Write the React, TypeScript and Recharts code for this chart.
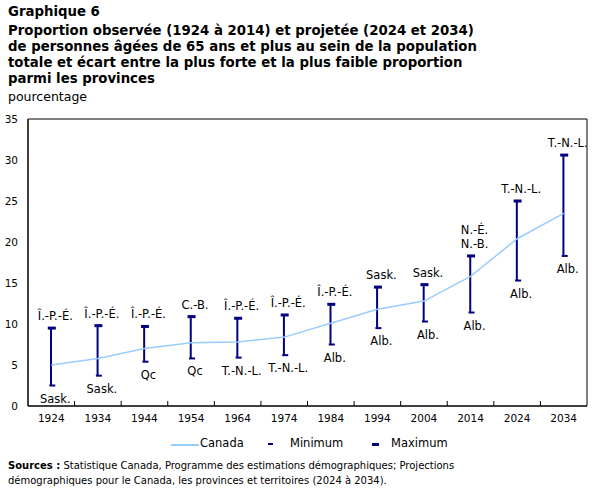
import {
  ComposedChart,
  Bar,
  Line,
  XAxis,
  YAxis,
  Legend,
  ReferenceArea,
} from "recharts";

const years = ["1924", "1934", "1944", "1954", "1964", "1974", "1984", "1994", "2004", "2014", "2024", "2034"];
const canada = [5.0, 5.8, 7.0, 7.7, 7.8, 8.4, 10.1, 11.8, 12.8, 15.8, 20.4, 23.5];
const maxValues = [9.5, 9.8, 9.7, 10.9, 10.7, 11.1, 12.4, 14.5, 14.8, 18.3, 25.0, 30.6];
const minValues = [2.5, 3.7, 5.4, 5.8, 5.9, 6.2, 7.5, 9.5, 10.3, 11.4, 15.3, 18.3];
const maxLabels = ["Î.-P.-É.", "Î.-P.-É.", "Î.-P.-É.", "C.-B.", "Î.-P.-É.", "Î.-P.-É.", "Î.-P.-É.", "Sask.", "Sask.", "N.-É.\nN.-B.", "T.-N.-L.", "T.-N.-L."];
const minLabels = ["Sask.", "Sask.", "Qc", "Qc", "T.-N.-L.", "T.-N.-L.", "Alb.", "Alb.", "Alb.", "Alb.", "Alb.", "Alb."];
const yTicks = [0, 5, 10, 15, 20, 25, 30, 35];

const data = years.map((year, i) => ({
  year,
  canada: canada[i],
  max: maxValues[i],
  min: minValues[i],
  range: [minValues[i], maxValues[i]],
  maxLabel: maxLabels[i],
  minLabel: minLabels[i],
}));

const FONT = "'DejaVu Sans', Verdana, sans-serif";
const NAVY = "#000080";
const SKY = "#99ccff";

const W = 606;
const H = 494;
const margin = { top: 119, right: 19, bottom: 50, left: 4 };
const Y_AXIS_W = 24;
const band = (W - margin.left - margin.right - Y_AXIS_W) / years.length;

// vertical segment between min and max
const Whisker = (props: any) => {
  const { x, y, width, height } = props;
  const cx = x + width / 2;
  const top = Math.min(y, y + height);
  const bottom = Math.max(y, y + height);
  return <line x1={cx} x2={cx} y1={top} y2={bottom} stroke={NAVY} strokeWidth={2} />;
};

const MaxCap = (props: any) => {
  const { cx, cy, index, payload } = props;
  const lines = String(payload.maxLabel).split("\n");
  return (
    <g key={`max-${index}`}>
      <rect x={cx - 3.5} y={cy - 1.5} width={8} height={3} fill={NAVY} />
      {lines.map((t, k) => (
        <text
          key={k}
          x={cx + 4}
          y={cy - 8 - (lines.length - 1 - k) * 14}
          textAnchor="middle"
          fontSize={11.5}
          fontFamily={FONT}
          fill="#000"
        >
          {t}
        </text>
      ))}
    </g>
  );
};

const MinCap = (props: any) => {
  const { cx, cy, index, payload } = props;
  return (
    <g key={`min-${index}`}>
      <rect x={cx - 2} y={cy - 1} width={6} height={2} fill={NAVY} />
      <text
        x={cx + 4}
        y={cy + 17}
        textAnchor="middle"
        fontSize={11.5}
        fontFamily={FONT}
        fill="#000"
      >
        {payload.minLabel}
      </text>
    </g>
  );
};

// year label plus a small inward tick on the boundary to the right
const YearTick = (props: any) => {
  const { x, y, payload, index } = props;
  const axisY = y - 9;
  return (
    <g>
      {index < years.length - 1 && (
        <line x1={x + band / 2} x2={x + band / 2} y1={axisY} y2={axisY - 5} stroke="#000" />
      )}
      <text x={x} y={y} dy="0.71em" textAnchor="middle" fontSize={10.5} fontFamily={FONT} fill="#000">
        {payload.value}
      </text>
    </g>
  );
};

const LegendContent = () => (
  <div style={{ position: "relative", height: 18, fontFamily: FONT, fontSize: 11.5, color: "#000" }}>
    <div style={{ position: "absolute", left: 171, top: 9, width: 28, height: 1.5, background: SKY }} />
    <span style={{ position: "absolute", left: 200, top: 1 }}>Canada</span>
    <div style={{ position: "absolute", left: 268, top: 8, width: 5, height: 2, background: NAVY }} />
    <span style={{ position: "absolute", left: 290, top: 1 }}>Minimum</span>
    <div style={{ position: "absolute", left: 372, top: 8, width: 7, height: 3, background: NAVY }} />
    <span style={{ position: "absolute", left: 391, top: 1 }}>Maximum</span>
  </div>
);

export default function App() {
  return (
    <div style={{ position: "absolute", left: 0, top: 0, width: W, height: H, background: "#fff", fontFamily: FONT }}>
      <div style={{ position: "absolute", left: 8, top: 4, fontSize: 13.3, fontWeight: "bold", lineHeight: "16px", whiteSpace: "nowrap" }}>
        <div style={{ marginBottom: 3 }}>Graphique 6</div>
        <div>Proportion observée (1924 à 2014) et projetée (2024 et 2034)</div>
        <div>de personnes âgées de 65 ans et plus au sein de la population</div>
        <div>totale et écart entre la plus forte et la plus faible proportion</div>
        <div>parmi les provinces</div>
      </div>
      <div style={{ position: "absolute", left: 8, top: 89, fontSize: 12.5 }}>pourcentage</div>

      <ComposedChart width={W} height={H} data={data} margin={margin}>
        <XAxis
          dataKey="year"
          height={20}
          tickLine={false}
          tickSize={0}
          tickMargin={9}
          axisLine={{ stroke: "#000" }}
          tick={<YearTick />}
          interval={0}
        />
        <YAxis
          domain={[0, 35]}
          ticks={yTicks}
          width={Y_AXIS_W}
          tickLine={false}
          tickSize={0}
          tickMargin={10}
          axisLine={{ stroke: "#000" }}
          tick={{ fontSize: 10.5, fontFamily: FONT, fill: "#000" }}
        />
        <ReferenceArea y1={0} y2={35} fill="none" stroke="#000" strokeWidth={1} ifOverflow="visible" />
        <Legend content={<LegendContent />} wrapperStyle={{ left: 0, top: 435, width: W, height: 18 }} />
        <Bar dataKey="range" barSize={2} shape={<Whisker />} legendType="none" isAnimationActive={false} />
        <Line
          dataKey="canada"
          name="Canada"
          type="linear"
          stroke={SKY}
          strokeWidth={1.5}
          dot={false}
          activeDot={false}
          isAnimationActive={false}
        />
        <Line dataKey="min" name="Minimum" stroke="none" dot={MinCap} activeDot={false} isAnimationActive={false} />
        <Line dataKey="max" name="Maximum" stroke="none" dot={MaxCap} activeDot={false} isAnimationActive={false} />
      </ComposedChart>

      <div style={{ position: "absolute", left: 8, top: 458, fontSize: 10, lineHeight: "15px", whiteSpace: "nowrap" }}>
        <div>
          <b>Sources :</b> Statistique Canada, Programme des estimations démographiques; Projections
        </div>
        <div>démographiques pour le Canada, les provinces et territoires (2024 à 2034).</div>
      </div>
    </div>
  );
}
